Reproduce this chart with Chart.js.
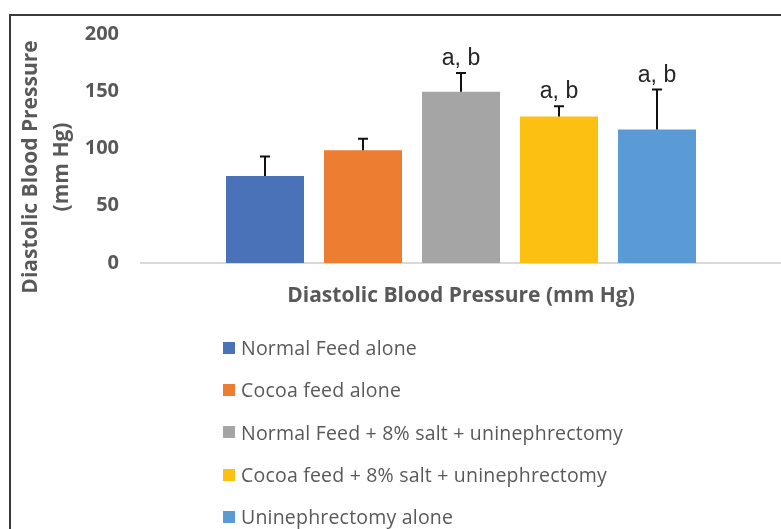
<!DOCTYPE html>
<html>
<head>
<meta charset="utf-8">
<script src="https://cdn.jsdelivr.net/npm/chart.js@4.4.1/dist/chart.umd.min.js"></script>
<style>
  html, body { margin: 0; padding: 0; background: #fff; }
  #wrap { position: relative; width: 781px; height: 529px; overflow: hidden; }
  #frame {
    position: absolute; left: 9px; top: 14px; width: 900px; height: 600px;
    border-top: 2px solid #3a3a3a; border-left: 2px solid #3a3a3a;
    box-sizing: border-box; pointer-events: none;
  }
  #chart { position: absolute; left: 0; top: 0; }
  #legend {
    position: absolute; left: 223px; top: 326.5px; margin: 0; padding: 0;
    list-style: none; font-family: "Open Sans", sans-serif; font-size: 19.5px;
    letter-spacing: 0.2px; color: #595959;
  }
  #legend li { height: 42.3px; display: flex; align-items: center; }
  #legend span.box { width: 12px; height: 12px; margin-right: 6px; display: inline-block; }
</style>
</head>
<body>
<div id="wrap">
  <canvas id="chart" width="781" height="529"></canvas>
  <div id="frame"></div>
  <ul id="legend"></ul>
</div>
<script>
const groups = [
  "Normal Feed alone",
  "Cocoa feed alone",
  "Normal Feed + 8% salt + uninephrectomy",
  "Cocoa feed + 8% salt + uninephrectomy",
  "Uninephrectomy alone"
];
const means = [76, 98.5, 149.5, 128, 116.5];
const errors = [17, 10, 16.5, 9, 35];
const marks = ["", "", "a, b", "a, b", "a, b"];
const colors = ["#4a72b8", "#ed7d31", "#a5a5a5", "#fbc012", "#5b9bd5"];
const yTicks = [0, 50, 100, 150, 200];
const yTitle = ["Diastolic Blood Pressure", "(mm Hg)"];

const axisGrey = "#595959";

// error bars + significance letters, drawn from the scales
const errorBars = {
  id: "errorBars",
  afterDatasetsDraw(chart) {
    const ctx = chart.ctx;
    const y = chart.scales.y;
    ctx.save();
    chart.data.datasets.forEach((ds, i) => {
      const bar = chart.getDatasetMeta(i).data[0];
      const top = y.getPixelForValue(means[i] + errors[i]);
      ctx.strokeStyle = "#111";
      ctx.lineWidth = 2;
      ctx.beginPath();
      ctx.moveTo(bar.x, bar.y);
      ctx.lineTo(bar.x, top);
      ctx.moveTo(bar.x - 5, top);
      ctx.lineTo(bar.x + 5, top);
      ctx.stroke();
      if (marks[i]) {
        ctx.fillStyle = "#262626";
        ctx.font = "23px 'Liberation Sans', Arial, sans-serif";
        ctx.textAlign = "center";
        ctx.textBaseline = "alphabetic";
        ctx.fillText(marks[i], bar.x, top - 8);
      }
    });
    ctx.restore();
  }
};

// y title sits a bit lower than the scale centre, like the original
const yTitlePlugin = {
  id: "yTitle",
  afterDraw(chart) {
    const ctx = chart.ctx;
    ctx.save();
    ctx.fillStyle = axisGrey;
    ctx.font = "bold 21px 'Open Sans', sans-serif";
    ctx.textAlign = "center";
    ctx.textBaseline = "middle";
    yTitle.forEach((line, i) => {
      ctx.save();
      ctx.translate(31.5 + i * 31, 167);
      ctx.rotate(-Math.PI / 2);
      ctx.fillText(line, 0, 0);
      ctx.restore();
    });
    ctx.restore();
  }
};

const chart = new Chart(document.getElementById("chart"), {
  type: "bar",
  data: {
    labels: [""],
    datasets: groups.map((g, i) => ({
      label: g,
      data: [means[i]],
      backgroundColor: colors[i],
      categoryPercentage: 0.7656,
      barPercentage: 0.796
    }))
  },
  options: {
    responsive: false,
    animation: false,
    layout: { padding: { top: 31, right: 0, bottom: 220, left: 0 } },
    plugins: { legend: { display: false }, tooltip: { enabled: false } },
    scales: {
      x: {
        grid: { display: false, drawTicks: false },
        border: { color: "#d9d9d9", width: 2 },
        ticks: { display: false },
        title: {
          display: true,
          text: "Diastolic Blood Pressure (mm Hg)",
          color: axisGrey,
          font: { family: "Open Sans", size: 21, weight: "bold", lineHeight: 1.2 },
          padding: 0
        },
        afterFit(scale) { scale.height = 46; }
      },
      y: {
        min: 0,
        max: 200,
        grid: { display: false, drawTicks: false },
        border: { display: false },
        afterBuildTicks(scale) { scale.ticks = yTicks.map(v => ({ value: v })); },
        ticks: {
          color: axisGrey,
          padding: 22,
          font: { family: "Open Sans", size: 20, weight: "bold" }
        },
        afterFit(scale) { scale.width = 141; }
      }
    }
  },
  plugins: [errorBars, yTitlePlugin]
});

// legend list below the chart
const legend = document.getElementById("legend");
chart.data.datasets.forEach(ds => {
  const li = document.createElement("li");
  const box = document.createElement("span");
  box.className = "box";
  box.style.background = ds.backgroundColor;
  li.appendChild(box);
  li.appendChild(document.createTextNode(ds.label));
  legend.appendChild(li);
});
</script>
</body>
</html>
